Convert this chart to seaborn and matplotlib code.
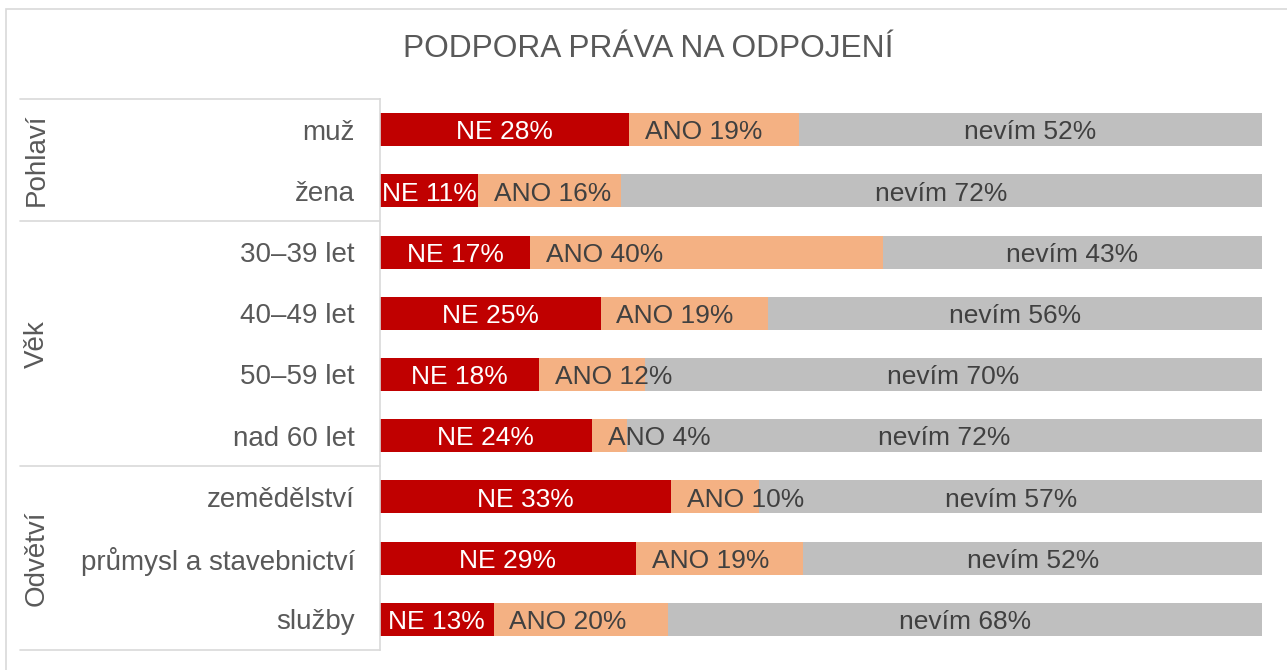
import numpy as np
import pandas as pd
import matplotlib
matplotlib.use("Agg")
import matplotlib.pyplot as plt
import matplotlib.transforms as mtransforms
from matplotlib.lines import Line2D
from matplotlib.patches import Rectangle
import seaborn as sns

# ---- data ----
categories = ["muž", "žena", "30–39 let", "40–49 let", "50–59 let", "nad 60 let",
              "zemědělství", "průmysl a stavebnictví", "služby"]
ne_vals = [28, 11, 17, 25, 18, 24, 33, 29, 13]
ano_vals = [19, 16, 40, 19, 12, 4, 10, 19, 20]
nevim_vals = [52, 72, 43, 56, 70, 72, 57, 52, 68]
groups = ["Pohlaví", "Věk", "Odvětví"]
group_sizes = [2, 4, 3]
title = "PODPORA PRÁVA NA ODPOJENÍ"

C_NE, C_ANO, C_NEVIM = "#C00000", "#F4B183", "#BFBFBF"
TXT = "#595959"
LBL = "#404040"
LINE = "#D9D9D9"

sns.set_theme(style="white")
plt.rcParams["font.family"] = ["Liberation Sans", "DejaVu Sans"]

df = pd.DataFrame({"cat": categories, "NE": ne_vals, "ANO": ano_vals, "nevim": nevim_vals})
tot = df[["NE", "ANO", "nevim"]].sum(axis=1)
df["p_ne"] = df["NE"] / tot
df["p_ano"] = df["ANO"] / tot
df["c1"] = df["p_ne"]
df["c2"] = df["p_ne"] + df["p_ano"]
df["c3"] = 1.0

W, H = 1287, 670
fig = plt.figure(figsize=(W / 100, H / 100), dpi=100)
ax = fig.add_axes([380 / W, 1 - 650 / H, (1262 - 380) / W, (650 - 99) / H])

bw = 0.54
sns.barplot(data=df, y="cat", x="c3", color=C_NEVIM, width=bw, ax=ax, orient="h",
            saturation=1, edgecolor="none")
sns.barplot(data=df, y="cat", x="c2", color=C_ANO, width=bw, ax=ax, orient="h",
            saturation=1, edgecolor="none")
sns.barplot(data=df, y="cat", x="c1", color=C_NE, width=bw, ax=ax, orient="h",
            saturation=1, edgecolor="none")

ax.set_xlim(0, 1)
ax.set_ylim(len(categories) - 0.5, -0.5)
ax.set_xlabel("")
ax.set_ylabel("")
ax.set_xticks([])
for s in ["top", "right", "bottom"]:
    ax.spines[s].set_visible(False)
ax.spines["left"].set_color(LINE)
ax.spines["left"].set_linewidth(1.2)
ax.tick_params(axis="y", length=0, pad=18, labelsize=20, labelcolor=TXT)

fs = 19
dy = -2
for i, r in df.iterrows():
    ax.annotate(f"NE {r['NE']}%", xy=(r["c1"] / 2, i), xytext=(0, dy),
                textcoords="offset points", ha="center", va="center",
                color="white", fontsize=fs)
    ax.annotate(f"ANO {r['ANO']}%", xy=(r["c1"], i), xytext=(11.5, dy),
                textcoords="offset points", ha="left", va="center",
                color=LBL, fontsize=fs)
    ax.annotate(f"nevím {r['nevim']}%", xy=((r["c2"] + 1) / 2, i), xytext=(0, dy),
                textcoords="offset points", ha="center", va="center",
                color=LBL, fontsize=fs)

# group separators and labels
trans = mtransforms.blended_transform_factory(fig.transFigure, ax.transData)
bounds = np.concatenate([[0], np.cumsum(group_sizes)]) - 0.5
for b in bounds:
    fig.add_artist(Line2D([20 / W, 380 / W], [b, b], transform=trans,
                          color=LINE, lw=1.2, clip_on=False))
for g, lo, hi in zip(groups, bounds[:-1], bounds[1:]):
    fig.text(37 / W, (lo + hi) / 2, g, rotation=90, ha="center", va="center",
             fontsize=20, color=TXT, transform=trans)

fig.text(648 / W, 1 - 49 / H, title, ha="center", va="center", fontsize=22.8, color=TXT)

fig.add_artist(Rectangle((6 / W, -0.1), 1.2, 1.1 - 9 / H, transform=fig.transFigure,
                         fill=False, edgecolor=LINE, lw=1.2))

fig.savefig("out.png", dpi=100)
